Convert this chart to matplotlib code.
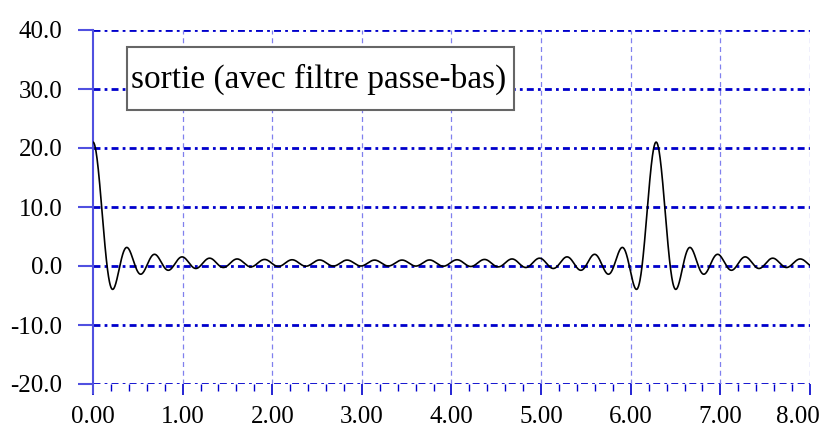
import numpy as np
import matplotlib
matplotlib.use("Agg")
import matplotlib.pyplot as plt
from matplotlib.ticker import MultipleLocator
from matplotlib.patches import Rectangle
from matplotlib.transforms import ScaledTranslation

# gains of the low-pass filter for harmonics 0..20 of the impulse train (period 2*pi)
harmonic_gain = [1, 1, 1, 1, 1, 1, 1, 1, 1, 1, 1, 1, 1, 1, 1, 1, 1, 1, 1, 1, 1]
x_range = [0.0, 8.0]
y_range = [-20.0, 40.0]
x_ticks = [0, 1, 2, 3, 4, 5, 6, 7, 8]
y_ticks = [-20, -10, 0, 10, 20, 30, 40]
label = "sortie (avec filtre passe-bas)"

t = np.linspace(x_range[0], x_range[1], 3000)
signal = np.zeros_like(t)
for k, g in enumerate(harmonic_gain):
    signal += g * np.cos(k * t)

plt.rcParams["font.family"] = ["Liberation Serif", "DejaVu Serif"]

fig = plt.figure(figsize=(8.26, 4.28), dpi=100)
ax = fig.add_axes([93 / 826, 1 - 384 / 428, 717 / 826, 354 / 428])

for y in y_ticks:
    ax.axhline(y, color="#0000cc", lw=2.0, linestyle=(0, (2.5, 1.5, 1, 1.5)), zorder=1)
for x in x_ticks[1:]:
    ax.axvline(x, color="#8080ee", lw=0.9, linestyle=(0, (4, 3)), zorder=1)

ax.plot(t, signal, color="black", lw=1.2, zorder=3)

ax.set_xlim(x_range)
ax.set_ylim(y_range)
ax.set_xticks(x_ticks)
ax.set_xticklabels([f"{v:.2f}" for v in x_ticks])
ax.xaxis.set_minor_locator(MultipleLocator(0.2))
ax.set_yticks(y_ticks)
ax.set_yticklabels([f"{v:.1f}" for v in y_ticks])

for s in ["top", "right", "bottom"]:
    ax.spines[s].set_visible(False)
ax.spines["left"].set_color("#5050e0")
ax.spines["left"].set_linewidth(1.5)
ax.spines["left"].set_bounds(y_range[0] - 1.5, y_range[1])

ax.tick_params(axis="y", which="major", length=11, width=1.5, color="#5050e0",
               labelsize=18, pad=11)
ax.tick_params(axis="x", which="major", length=8, width=1.2, color="#0000cc",
               labelsize=18, pad=8)
ax.tick_params(axis="x", which="minor", length=5, width=1.0, color="#0000cc")

# last x label is pushed left so it stays inside the picture
last = ax.get_xticklabels()[-1]
last.set_transform(last.get_transform() + ScaledTranslation(-0.12, 0, fig.dpi_scale_trans))

ax.add_patch(Rectangle((0.379, 26.45), 4.318, 10.7, facecolor="white",
                       edgecolor="#666666", linewidth=1.5, zorder=5))
ax.text(0.424, 31.6, label, fontsize=24, ha="left", va="center", zorder=6)

fig.savefig("out.png", dpi=100)
